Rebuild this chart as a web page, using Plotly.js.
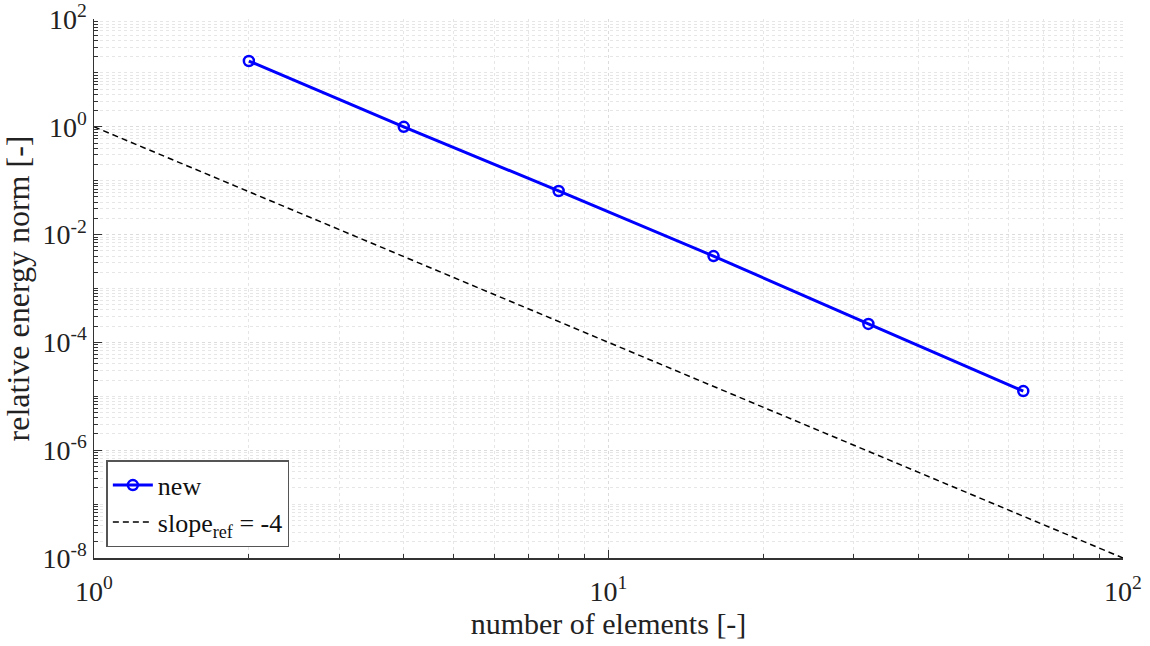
<!DOCTYPE html>
<html>
<head>
<meta charset="utf-8">
<script src="https://cdn.plot.ly/plotly-3.0.1.min.js"></script>
<style>html,body{margin:0;padding:0;background:#fff;}#chart{width:1150px;height:646px;}</style>
</head>
<body>
<div id="chart"></div>
<script>
const elements = [2, 4, 8, 16, 32, 64];
const energyNorm = [16.6, 1.0, 0.0645, 0.0040, 2.2e-4, 1.25e-5];
const refX = [1, 100];
const refY = [1, 1e-8];
const xTickVals = [1, 10, 100];
const xTickText = ['10<sup>0</sup>', '10<sup>1</sup>', '10<sup>2</sup>'];
const yTickVals = [1e-8, 1e-6, 1e-4, 1e-2, 1, 1e2];
const yTickText = ['10<sup>-8</sup>', '10<sup>-6</sup>', '10<sup>-4</sup>', '10<sup>-2</sup>', '10<sup>0</sup>', '10<sup>2</sup>'];

const font = 'Liberation Serif, Times New Roman, serif';

const traces = [
  {x: elements, y: energyNorm, type: 'scatter', mode: 'lines+markers', name: 'new',
   line: {color: '#0000ff', width: 3},
   marker: {symbol: 'circle-open', size: 10, color: '#0000ff', line: {width: 2.5, color: '#0000ff'}}},
  {x: refX, y: refY, type: 'scatter', mode: 'lines', name: 'slope<sub>ref</sub> = -4',
   line: {color: '#000000', width: 1.5, dash: '6px,4px'}}
];

const gridCol = '#dcdcdc';
const layout = {
  width: 1150, height: 646,
  margin: {l: 94, r: 27, t: 19, b: 88},
  paper_bgcolor: '#fff', plot_bgcolor: '#fff',
  font: {family: font, size: 27, color: '#222'},
  showlegend: true,
  legend: {x: 0.012, y: 0.02, xanchor: 'left', yanchor: 'bottom',
           bgcolor: '#fff', bordercolor: '#555', borderwidth: 1.5, itemwidth: 40,
           font: {family: font, size: 26, color: '#111'}, tracegroupgap: 0},
  xaxis: {type: 'log', range: [0, 2], tickmode: 'array', tickvals: xTickVals, ticktext: xTickText,
          ticks: 'inside', ticklen: 8, tickcolor: '#333', showline: true, linecolor: '#333', linewidth: 1.5,
          mirror: false, showgrid: true, gridcolor: gridCol, griddash: 'dot', zeroline: false,
          ticklabelstandoff: 8,
          tickfont: {family: font, size: 28, color: '#222'},
          minor: {dtick: 'D1', ticks: 'inside', ticklen: 4, tickcolor: '#333', showgrid: true, gridcolor: '#e6e6e6', griddash: 'dot'},
          title: {text: 'number of elements [-]', font: {family: font, size: 30, color: '#222'}, standoff: 6}},
  yaxis: {type: 'log', range: [-8, 2], tickmode: 'array', tickvals: yTickVals, ticktext: yTickText,
          ticks: 'inside', ticklen: 8, tickcolor: '#333', showline: true, linecolor: '#333', linewidth: 1.5,
          mirror: false, showgrid: true, gridcolor: gridCol, griddash: 'dot', zeroline: false,
          tickfont: {family: font, size: 28, color: '#222'},
          minor: {dtick: 'D1', ticks: 'inside', ticklen: 4, tickcolor: '#333', showgrid: true, gridcolor: '#e6e6e6', griddash: 'dot'},
          title: {text: 'relative energy norm [-]', font: {family: font, size: 32, color: '#222'}, standoff: 4}}
};

Plotly.newPlot('chart', traces, layout, {displayModeBar: false, staticPlot: true});
</script>
</body>
</html>
